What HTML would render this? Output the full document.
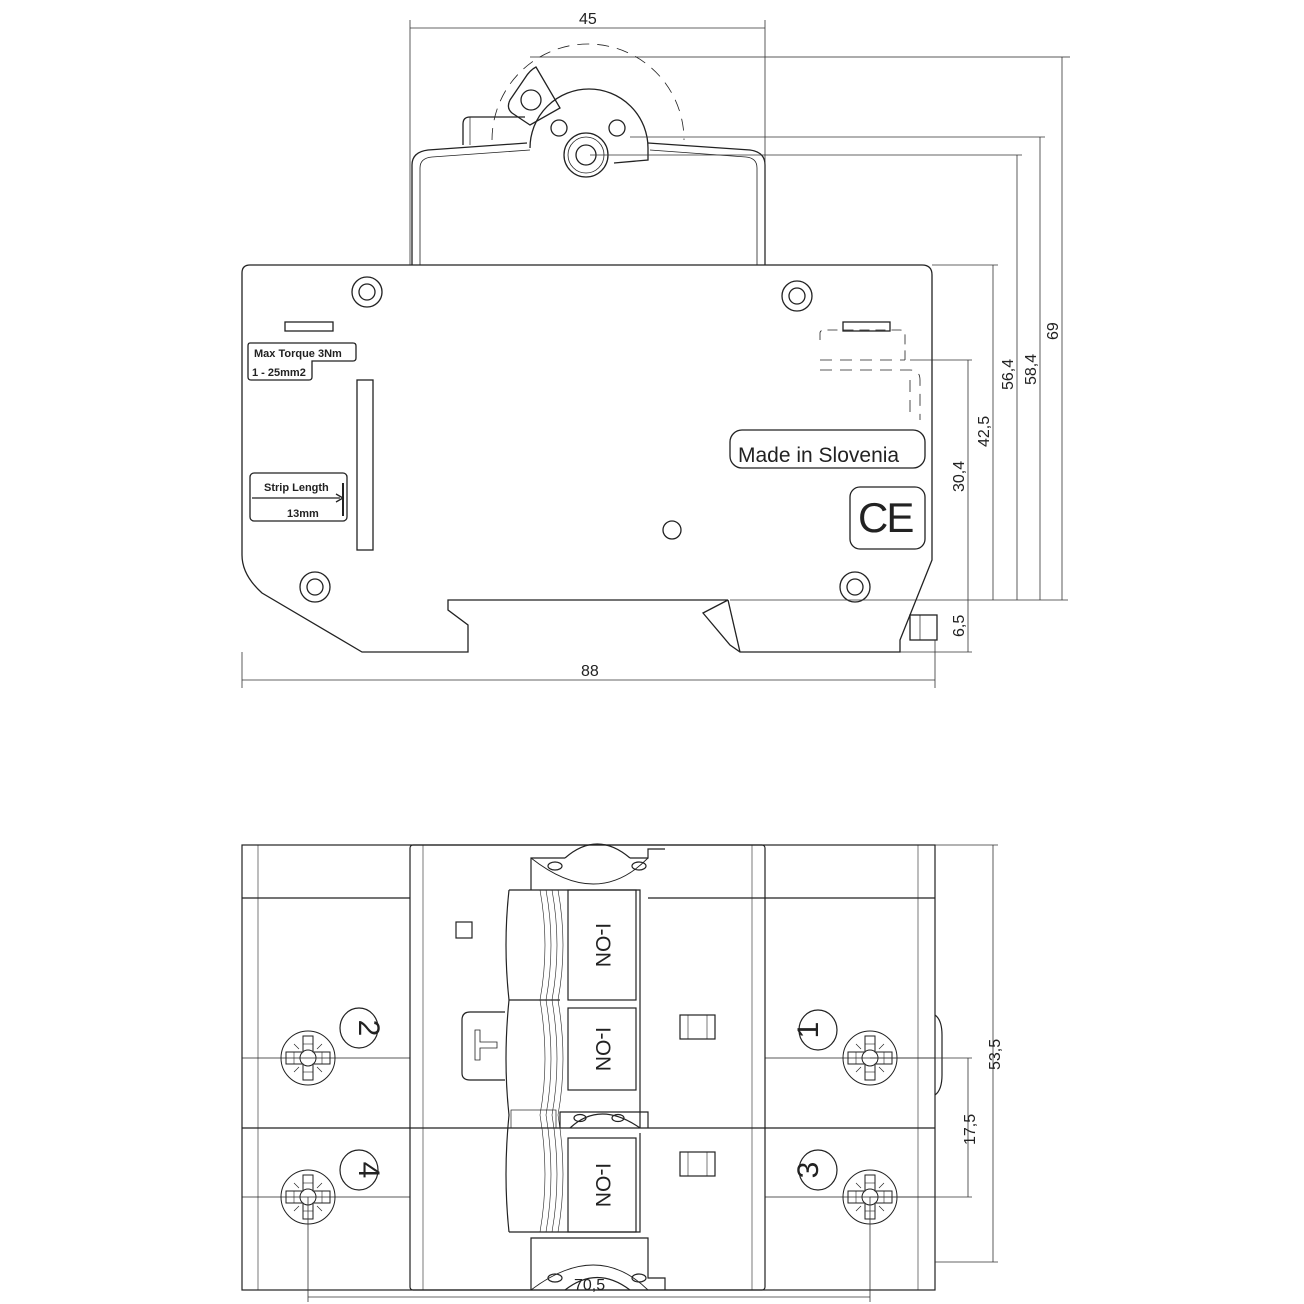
<!DOCTYPE html>
<html><head><meta charset="utf-8"><style>
html,body{margin:0;padding:0;background:#fff}
svg{display:block}
text{font-family:"Liberation Sans Narrow","Liberation Sans",sans-serif;fill:#222}
</style></head><body>
<svg width="1304" height="1304" viewBox="0 0 1304 1304" xmlns="http://www.w3.org/2000/svg">
<g fill="none" stroke="#222" stroke-width="1.3">
<path d="M250,265 H922 Q932,265 932,275 V560 L900,640 V652 H740 L730,645 L703,613 L728,600 H448 V610 L468,625 V652 H362 L262,593 Q242,575 242,555 V273 Q242,265 250,265 Z"/>
<path d="M728,600 L740,652"/>
<rect x="910" y="615" width="27" height="25"/>
<line x1="920" y1="615" x2="920" y2="640" stroke-width="0.7"/>
<path d="M412,265 V165 Q412,152 428,150 L527,143"/>
<path d="M420,265 V168 Q420,158 432,157 L530,150" stroke-width="0.8"/>
<path d="M765,265 V165 Q765,152 750,150 L648,143"/>
<path d="M757,265 V168 Q757,158 746,157 L650,150" stroke-width="0.8"/>
<path d="M530,148 A58,58 0 0 1 648,148 V160 L614,163"/>
<path d="M463,145 V124 Q463,117 470,117 H525"/>
<line x1="470" y1="117" x2="470" y2="145" stroke-width="0.7"/>
<circle cx="586" cy="155" r="22"/><circle cx="586" cy="155" r="18" stroke-width="0.8"/><circle cx="586" cy="155" r="10"/>
<circle cx="559" cy="128" r="8"/><circle cx="617" cy="128" r="8"/>
<path d="M525,78 L510,100 Q506,108 512,113 L530,125 L560,108 L536,67 Q530,70 525,78 Z"/>
<circle cx="531" cy="100" r="10"/>
<line x1="530" y1="57" x2="1070" y2="57" stroke-width="0.7"/>
<path d="M492,140 A95,95 0 0 1 684,140" stroke-dasharray="12,8" stroke-width="0.8"/>
<circle cx="367" cy="292" r="15"/><circle cx="367" cy="292" r="8"/>
<circle cx="797" cy="296" r="15"/><circle cx="797" cy="296" r="8"/>
<circle cx="315" cy="587" r="15"/><circle cx="315" cy="587" r="8"/>
<circle cx="855" cy="587" r="15"/><circle cx="855" cy="587" r="8"/>
<circle cx="672" cy="530" r="9"/>
<rect x="285" y="322" width="48" height="9"/><rect x="843" y="322" width="47" height="9"/>
<path d="M250,343 H353 Q356,343 356,346 V358 Q356,361 353,361 H312 V377 Q312,380 309,380 H251 Q248,380 248,377 V346 Q248,343 250,343 Z"/>
<rect x="357" y="380" width="16" height="170"/>
<rect x="250" y="473" width="97" height="48" rx="4"/>
<line x1="252" y1="498" x2="340" y2="498"/><path d="M336,494 L343,498 L336,502"/>
<line x1="343" y1="483" x2="343" y2="516" stroke-width="2"/>
<rect x="730" y="430" width="195" height="38" rx="12"/>
<rect x="850" y="487" width="75" height="62" rx="10"/>
<path d="M820,340 V333 Q820,330 825,330 H900 Q905,330 905,335 V360" stroke-dasharray="10,6" stroke-width="0.8"/>
<path d="M820,370 H910 Q920,370 920,380 V420 M910,380 V420 M820,360 H905" stroke-dasharray="12,8" stroke-width="0.8"/>
</g>
<text x="254" y="357" font-size="11" font-weight="bold">Max Torque 3Nm</text>
<text x="252" y="376" font-size="11" font-weight="bold">1 - 25mm2</text>
<text x="264" y="491" font-size="11" font-weight="bold">Strip Length</text>
<text x="287" y="517" font-size="11" font-weight="bold">13mm</text>
<text x="738" y="462" font-size="21">Made in Slovenia</text>
<text x="858" y="532" font-size="42" letter-spacing="-2">CE</text>

<g stroke="#333" stroke-width="0.8" fill="none">
<line x1="410" y1="20" x2="410" y2="265"/><line x1="765" y1="20" x2="765" y2="265"/>
<line x1="410" y1="28" x2="765" y2="28"/>
<line x1="242" y1="652" x2="242" y2="688"/><line x1="935" y1="640" x2="935" y2="688"/>
<line x1="242" y1="680" x2="935" y2="680"/>
<line x1="1062" y1="57" x2="1062" y2="600"/>
<line x1="1040" y1="137" x2="1040" y2="600"/>
<line x1="1017" y1="155" x2="1017" y2="600"/>
<line x1="993" y1="265" x2="993" y2="600"/>
<line x1="968" y1="360" x2="968" y2="652"/>
<line x1="630" y1="137" x2="1045" y2="137"/>
<line x1="590" y1="155" x2="1022" y2="155"/>
<line x1="932" y1="265" x2="998" y2="265"/>
<line x1="910" y1="360" x2="972" y2="360"/>
<line x1="730" y1="600" x2="1068" y2="600"/>
<line x1="900" y1="652" x2="972" y2="652"/>
</g>
<text x="579" y="24" font-size="16">45</text>
<text x="581" y="676" font-size="16">88</text>
<g font-size="16">
<text transform="translate(1058,340) rotate(-90)">69</text>
<text transform="translate(1036,385) rotate(-90)">58,4</text>
<text transform="translate(1013,390) rotate(-90)">56,4</text>
<text transform="translate(989,447) rotate(-90)">42,5</text>
<text transform="translate(964,492) rotate(-90)">30,4</text>
<text transform="translate(964,637) rotate(-90)">6,5</text>
</g>

<g fill="none" stroke="#222" stroke-width="1.2">
<rect x="242" y="845" width="693" height="445"/>
<rect x="410" y="845" width="355" height="445" rx="3"/>
<line x1="242" y1="898" x2="410" y2="898"/><line x1="765" y1="898" x2="935" y2="898"/>
<line x1="648" y1="898" x2="765" y2="898"/>
<line x1="242" y1="1128" x2="935" y2="1128"/>
<line x1="242" y1="1058" x2="410" y2="1058" stroke-width="0.8"/><line x1="765" y1="1058" x2="935" y2="1058" stroke-width="0.8"/>
<line x1="242" y1="1197" x2="410" y2="1197" stroke-width="0.8"/><line x1="765" y1="1197" x2="935" y2="1197" stroke-width="0.8"/>
<g stroke-width="0.6">
<line x1="258" y1="845" x2="258" y2="1290"/><line x1="918" y1="845" x2="918" y2="1290"/>
<line x1="423" y1="845" x2="423" y2="1290"/><line x1="752" y1="845" x2="752" y2="1290"/>
</g>
<path d="M935,1015 Q942,1020 942,1035 V1075 Q942,1090 935,1095"/>
<path d="M531,890 V858 H565 M630,858 H648 V849 H665"/>
<path d="M565,858 Q597,830 630,858"/>
<path d="M531,858 Q597,910 648,858" stroke-width="0.9"/>
<ellipse cx="555" cy="866" rx="7" ry="4"/><ellipse cx="639" cy="866" rx="7" ry="4"/>
<path d="M531,1290 V1238 H648 V1278 H665 V1290"/>
<path d="M531,1290 Q597,1240 648,1290" stroke-width="0.9"/>
<path d="M565,1290 Q597,1265 630,1290"/>
<ellipse cx="555" cy="1278" rx="7" ry="4"/><ellipse cx="639" cy="1278" rx="7" ry="4"/>
<path d="M560,1128 V1112 H648 V1128 M570,1128 Q600,1100 640,1128"/>
<ellipse cx="580" cy="1118" rx="6" ry="3.5"/><ellipse cx="618" cy="1118" rx="6" ry="3.5"/>
<path d="M509,890 Q503,945 509,1000 Q503,1060 509,1115 Q503,1175 509,1232"/>
<path d="M509,890 H640 V1008 M509,1000 H560 M509,1232 H640 V1133"/>
<path d="M540,890 Q550,945 540,1000 Q550,1060 540,1115 Q550,1175 540,1232" stroke-width="0.6"/>
<path d="M546,890 Q556,945 546,1000 Q556,1060 546,1115 Q556,1175 546,1232" stroke-width="0.6"/>
<path d="M552,890 Q562,945 552,1000 Q562,1060 552,1115 Q562,1175 552,1232" stroke-width="0.6"/>
<path d="M558,890 Q568,945 558,1000 Q568,1060 558,1115 Q568,1175 558,1232" stroke-width="0.6"/>
<rect x="568" y="890" width="68" height="110"/>
<rect x="568" y="1008" width="68" height="82"/>
<rect x="568" y="1138" width="68" height="94"/>
<line x1="640" y1="1008" x2="640" y2="1128"/>
<rect x="511" y="1110" width="45" height="18" stroke-width="0.7"/>
<path d="M505,1012 H470 Q462,1012 462,1020 V1073 Q462,1080 470,1080 H505"/>
<path d="M475,1030 V1060 H480 V1048 H497 V1042 H480 V1030 Z" stroke-width="0.8"/>
<rect x="456" y="922" width="16" height="16"/>
<rect x="680" y="1015" width="35" height="24"/><line x1="688" y1="1015" x2="688" y2="1039" stroke-width="0.6"/><line x1="707" y1="1015" x2="707" y2="1039" stroke-width="0.6"/>
<rect x="680" y="1152" width="35" height="24"/><line x1="688" y1="1152" x2="688" y2="1176" stroke-width="0.6"/><line x1="707" y1="1152" x2="707" y2="1176" stroke-width="0.6"/>
<ellipse cx="359" cy="1028" rx="19" ry="20"/><ellipse cx="818" cy="1030" rx="19" ry="20"/>
<ellipse cx="359" cy="1170" rx="19" ry="20"/><ellipse cx="818" cy="1170" rx="19" ry="20"/>
</g>
<defs>
<g id="scr" fill="none" stroke="#222" stroke-width="1">
<ellipse cx="0" cy="0" rx="27" ry="27"/>
<path d="M-5,-22 H5 V-6 H22 V6 H5 V22 H-5 V6 H-22 V-6 H-5 Z"/>
<circle cx="0" cy="0" r="8"/>
<line x1="-5" y1="-14" x2="5" y2="-14" stroke-width="0.6"/><line x1="-5" y1="14" x2="5" y2="14" stroke-width="0.6"/>
<line x1="-14" y1="-6" x2="-14" y2="6" stroke-width="0.6"/><line x1="14" y1="-6" x2="14" y2="6" stroke-width="0.6"/>
<path d="M-9,-9 L-14,-14 M9,-9 L14,-14 M-9,9 L-14,14 M9,9 L14,14" stroke-width="0.7"/>
</g>
</defs>
<use href="#scr" x="308" y="1058"/><use href="#scr" x="870" y="1058"/>
<use href="#scr" x="308" y="1197"/><use href="#scr" x="870" y="1197"/>
<g font-size="30">
<text transform="translate(349,1028) rotate(90)" text-anchor="middle" dy="-10">2</text>
<text transform="translate(828,1030) rotate(-90)" text-anchor="middle" dy="-10">1</text>
<text transform="translate(349,1170) rotate(90)" text-anchor="middle" dy="-10">4</text>
<text transform="translate(828,1170) rotate(-90)" text-anchor="middle" dy="-10">3</text>
</g>
<g font-size="21">
<text transform="translate(596,945) rotate(90)" text-anchor="middle">I-ON</text>
<text transform="translate(596,1049) rotate(90)" text-anchor="middle">I-ON</text>
<text transform="translate(596,1185) rotate(90)" text-anchor="middle">I-ON</text>
</g>
<g stroke="#333" stroke-width="0.8" fill="none">
<line x1="935" y1="845" x2="998" y2="845"/><line x1="935" y1="1262" x2="998" y2="1262"/>
<line x1="993" y1="845" x2="993" y2="1262"/>
<line x1="870" y1="1058" x2="972" y2="1058"/><line x1="870" y1="1197" x2="972" y2="1197"/>
<line x1="968" y1="1058" x2="968" y2="1197"/>
<line x1="308" y1="1197" x2="308" y2="1302"/><line x1="870" y1="1197" x2="870" y2="1302"/>
<line x1="308" y1="1297" x2="870" y2="1297"/>
</g>
<text transform="translate(1000,1070) rotate(-90)" font-size="16">53,5</text>
<text transform="translate(975,1145) rotate(-90)" font-size="16">17,5</text>
<text x="574" y="1290" font-size="16">70,5</text>
</svg>
</body></html>
